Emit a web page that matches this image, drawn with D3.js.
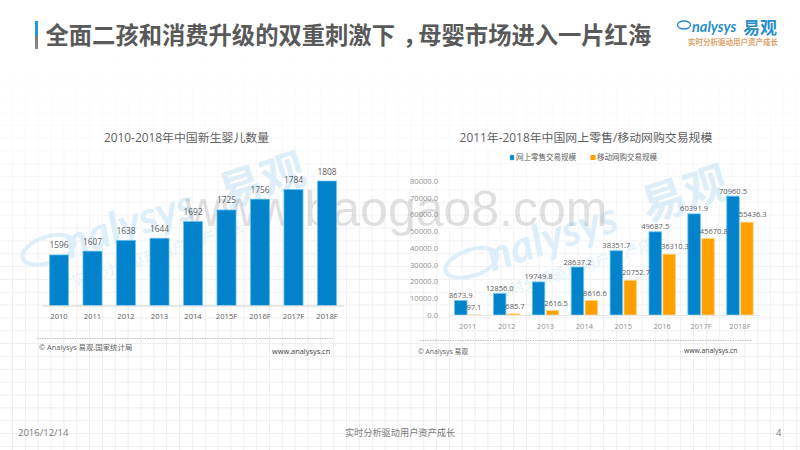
<!DOCTYPE html>
<html><head><meta charset="utf-8">
<script src="https://cdn.jsdelivr.net/npm/d3@7/dist/d3.min.js"></script>
<style>
html,body{margin:0;padding:0;background:#fff;overflow:hidden}
svg{display:block}
text{font-family:"Open Sans","Noto Sans CJK SC",sans-serif}
</style></head><body>
<svg id="c" width="800" height="450" xmlns="http://www.w3.org/2000/svg"></svg>
<script>
const birthYears=["2010","2011","2012","2013","2014","2015F","2016F","2017F","2018F"];
const births=[1596,1607,1638,1644,1692,1725,1756,1784,1808];
const shopYears=["2011","2012","2013","2014","2015","2016","2017F","2018F"];
const retail=[8673.9,12856.0,19749.8,28637.2,38351.7,49687.5,60391.9,70960.5];
const mobile=[97.1,685.7,2616.5,8616.6,20752.7,36310.3,45670.8,55436.3];
const retailTicks=[0,10000,20000,30000,40000,50000,60000,70000,80000];
const seriesNames=["网上零售交易规模","移动网购交易规模"];
const titleHead="全面二孩和消费升级的双重刺激下";
const titleTail="母婴市场进入一片红海";
const leftTitle="2010-2018年中国新生婴儿数量";
const rightTitle="2011年-2018年中国网上零售/移动网购交易规模";

const BLUE="#0483cd",BLUE_E="#6cc8f2",ORANGE="#ff9f00",ORANGE_E="#ffd68a",TXT="#5f5f5f",TICK="#939393";
const svg=d3.select("#c");
const defs=svg.append("defs");
const fade=defs.append("linearGradient").attr("id","fade").attr("x1",0).attr("x2",0).attr("y1",0).attr("y2",1);
[[0,"#fff",1],[0.14,"#fff",0.95],[0.45,"#fff",0.45],[0.72,"#fff",0]].forEach(s=>fade.append("stop").attr("offset",s[0]).attr("stop-color",s[1]).attr("stop-opacity",s[2]));
const acc=defs.append("linearGradient").attr("id","acc").attr("x1",0).attr("x2",0).attr("y1",0).attr("y2",1);
[[0,"#1da1e0"],[0.5,"#2b95cf"],[0.55,"#7a7a7a"],[1,"#8c8c8c"]].forEach(s=>acc.append("stop").attr("offset",s[0]).attr("stop-color",s[1]));

// background grid
const grid=svg.append("g").attr("stroke","#eeeeee").attr("stroke-width",1);
d3.range(12.5,800,12.85).forEach(x=>grid.append("line").attr("x1",x).attr("x2",x).attr("y1",0).attr("y2",450));
d3.range(9.5,450,12.85).forEach(y=>grid.append("line").attr("x1",0).attr("x2",800).attr("y1",y).attr("y2",y));
svg.append("rect").attr("width",800).attr("height",450).attr("fill","url(#fade)");

// watermarks
function mark(x,y){
  const g=svg.append("g").attr("transform",`translate(${x},${y}) rotate(-18)`).attr("fill","#deeef8");
  g.append("ellipse").attr("cx",22).attr("cy",8).attr("rx",27).attr("ry",13).attr("fill","none").attr("stroke","#deeef8").attr("stroke-width",4);
  g.append("text").attr("x",39).attr("y",23).attr("font-size",44).attr("font-style","italic").attr("font-weight",700).attr("style","font-family:Lato,sans-serif").text("nalysys");
  g.append("text").attr("x",202).attr("y",24).attr("font-size",44).attr("font-weight",700).attr("style","font-family:'Noto Sans CJK SC',sans-serif").text("易观");
  g.append("text").attr("x",35).attr("y",51).attr("font-size",15).attr("fill","#e4f1f9").attr("style","font-family:'Noto Sans CJK SC',sans-serif").text("实时分析驱动用户资产成长");
}
mark(25,249);mark(448,262);
svg.append("text").attr("x",185).attr("y",226).attr("font-size",50).attr("fill","#8c8c8c").attr("fill-opacity",.27)
  .attr("style","font-family:'Liberation Sans',sans-serif").text("www.baogao8.com");

// header
svg.append("rect").attr("x",35).attr("y",21).attr("width",3).attr("height",28).attr("fill","url(#acc)");
svg.append("rect").attr("x",646).attr("y",8).attr("width",144).attr("height",51).attr("fill","#fff");
const head=svg.append("text").attr("x",45.5).attr("y",44).attr("font-size",23.3).attr("font-weight",700).attr("fill","#595959")
  .attr("style","font-family:'Noto Sans CJK SC',sans-serif");
head.append("tspan").text(titleHead);
head.append("tspan").attr("dx",8).text("，");
head.append("tspan").attr("dx",-8).text(titleTail);
svg.append("text").attr("x",692).attr("y",32).attr("font-size",14.5).attr("font-style","italic").attr("font-weight",700).attr("fill","#2a8fc9").attr("style","font-family:Lato,sans-serif").text("nalysys");
svg.append("ellipse").attr("cx",684).attr("cy",25).attr("rx",6.5).attr("ry",4).attr("fill","none").attr("stroke","#2a8fc9").attr("stroke-width",1.3);
svg.append("text").attr("x",743).attr("y",34).attr("font-size",17).attr("font-weight",700).attr("fill","#2a8fc9").text("易观");
svg.append("text").attr("x",688).attr("y",45).attr("font-size",7.5).attr("font-weight",700).attr("fill","#dba36a").text("实时分析驱动用户资产成长");

function txt(x,y,s,size,fill,anchor){
  return svg.append("text").attr("x",x).attr("y",y).attr("font-size",size).attr("fill",fill).attr("text-anchor",anchor||"start").text(s);
}

// left chart
txt(186.5,141.5,leftTitle,11.9,TXT,"middle");
const xL=d3.scaleBand().domain(birthYears).range([42.25,343.75]).paddingInner(0.43).paddingOuter(0.215);
const yL=d3.scaleLinear().domain([1451,1808]).range([305.5,181]);
svg.append("g").selectAll("rect").data(births).join("rect")
  .attr("x",(d,i)=>xL(birthYears[i])).attr("width",xL.bandwidth())
  .attr("y",d=>yL(d)).attr("height",d=>yL.range()[0]-yL(d))
  .attr("fill",BLUE).attr("stroke",BLUE_E).attr("stroke-width",.7);
svg.append("g").selectAll("text").data(births).join("text")
  .attr("x",(d,i)=>xL(birthYears[i])+xL.bandwidth()/2).attr("y",d=>yL(d)-6.5)
  .attr("text-anchor","middle").attr("font-size",8.4).attr("fill",TXT).text(d=>d);
const axL=svg.append("g").attr("transform","translate(0,305.5)").call(d3.axisBottom(xL).tickSize(0).tickPadding(8));
axL.select(".domain").attr("stroke","#d4d4d4");
axL.selectAll("text").attr("font-size",7.6).attr("fill","#5f5f5f").style("font-family",'"Open Sans","Noto Sans CJK SC",sans-serif');

// right chart
txt(586,141.5,rightTitle,11.9,TXT,"middle");
const xR=d3.scaleBand().domain(shopYears).range([448.3,759.4]).paddingInner(0.32).paddingOuter(0.16);
const xS=d3.scaleBand().domain(seriesNames).range([0,xR.bandwidth()]).paddingInner(0.1);
const yR=d3.scaleLinear().domain([0,80000]).range([315,181]);
const series=[[seriesNames[0],retail,BLUE,BLUE_E],[seriesNames[1],mobile,ORANGE,ORANGE_E]];
series.forEach(([n,vals,c,e])=>{
  svg.append("g").selectAll("rect").data(vals).join("rect")
    .attr("x",(d,i)=>xR(shopYears[i])+xS(n)).attr("width",xS.bandwidth())
    .attr("y",d=>yR(d)).attr("height",d=>yR(0)-yR(d))
    .attr("fill",c).attr("stroke",e).attr("stroke-width",.8);
});
svg.append("g").selectAll("text").data(retail).join("text")
  .attr("x",(d,i)=>xR(shopYears[i])+xS(seriesNames[0])+xS.bandwidth()/2).attr("y",d=>yR(d)-2.5)
  .attr("text-anchor","middle").attr("font-size",7.6).attr("fill",TXT).text(d=>d.toFixed(1));
svg.append("g").selectAll("text").data(mobile).join("text")
  .attr("x",(d,i)=>xR(shopYears[i])+xS(seriesNames[1])-2).attr("y",d=>yR(d)-5)
  .attr("text-anchor","start").attr("font-size",7.6).attr("fill",TXT).text(d=>d.toFixed(1));
const axX=svg.append("g").attr("transform","translate(0,315)").call(d3.axisBottom(xR).tickSize(0).tickPadding(9));
axX.select(".domain").attr("stroke","#e6e6e6");
axX.selectAll("text").attr("font-size",7.6).attr("fill",TICK).style("font-family",'"Open Sans",sans-serif');
const axY=svg.append("g").attr("transform","translate(441,0)").call(d3.axisLeft(yR).tickValues(retailTicks).tickSize(0).tickPadding(3).tickFormat(d=>d.toFixed(1)));
axY.select(".domain").remove();
axY.selectAll("text").attr("font-size",7.6).attr("fill",TICK).style("font-family",'"Open Sans",sans-serif');

// legend
svg.append("rect").attr("x",510).attr("y",155).attr("width",4).attr("height",5).attr("fill",BLUE).attr("stroke",BLUE_E).attr("stroke-width",.5);
txt(516,160,seriesNames[0],7.5,TXT);
svg.append("rect").attr("x",590.5).attr("y",155).attr("width",5).attr("height",5).attr("fill",ORANGE);
txt(597,160,seriesNames[1],7.5,TXT);

// sources
const dash=(x1,x2,y)=>svg.append("line").attr("x1",x1).attr("x2",x2).attr("y1",y).attr("y2",y).attr("stroke","#a5a5a5").attr("stroke-width",.7).attr("stroke-dasharray","1.5 1");
dash(37,333,338.5);dash(420,752,340.5);
txt(39,350,"© Analysys 易观.国家统计局",7.4,TXT);
txt(272,354,"www.analysys.cn",7.4,"#404040");
txt(418,354,"© Analysys 易观",6.8,TXT);
txt(684,353,"www.analysys.cn",6.8,"#404040");

// footer
txt(18,436,"2016/12/14",9.5,"#7a7a7a");
txt(400,436,"实时分析驱动用户资产成长",9.2,"#7a7a7a","middle");
txt(776,436,"4",9.5,"#7a7a7a");
</script></body></html>
